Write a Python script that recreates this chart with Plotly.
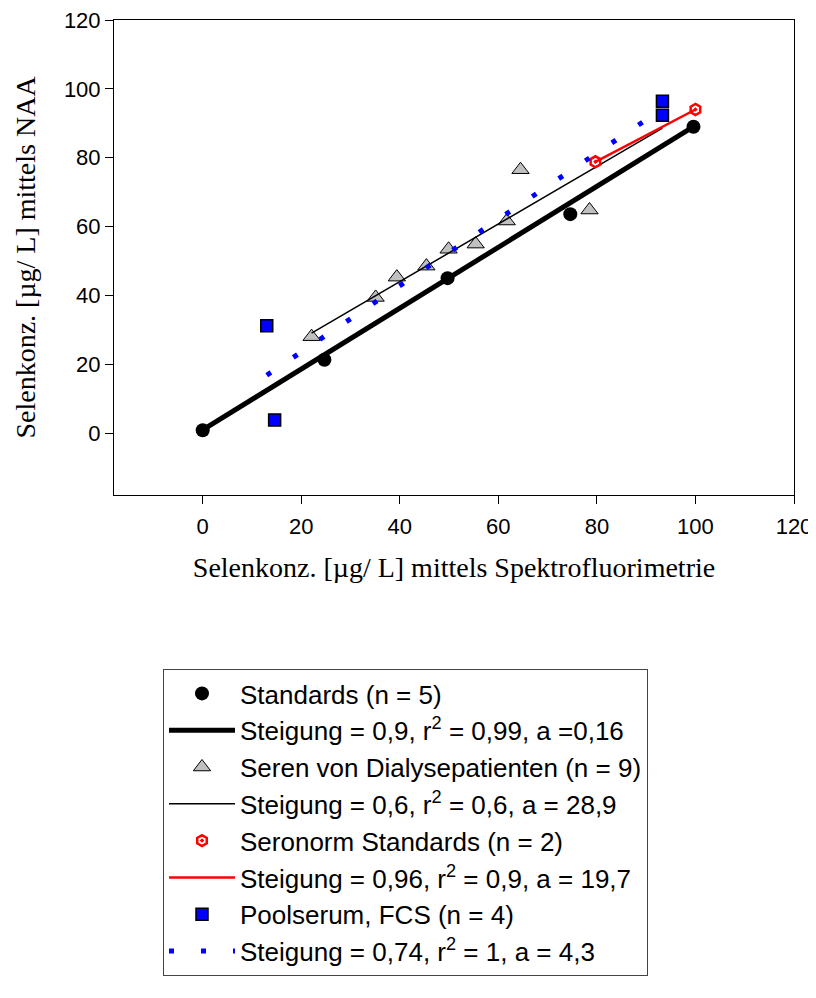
import plotly.graph_objects as go

# ---- data ----
std_x = [0, 24.7, 49.7, 74.6, 99.6]
std_y = [0.8, 21.3, 45.0, 63.6, 89.0]
std_fit_x = [0, 99.6]
std_fit_y = [0.9, 89.0]

dia_x = [22.1, 35.1, 39.4, 45.4, 49.9, 55.4, 61.7, 64.5, 78.5]
dia_y = [28.0, 39.4, 45.3, 48.5, 53.4, 54.9, 61.6, 76.5, 64.8]
dia_fit_x = [22.1, 93.3]
dia_fit_y = [29.0, 88.6]

sero_x = [79.7, 100.0]
sero_y = [78.8, 94.0]
sero_fit_x = [79.7, 100.0]
sero_fit_y = [78.8, 94.0]

pool_x = [13.0, 14.6, 93.3, 93.3]
pool_y = [31.2, 3.8, 96.4, 92.3]
pool_fit_x = [13.0, 93.3]
pool_fit_y = [16.8, 94.2]

names = [
    "Standards (n = 5)",
    "Steigung = 0,9, r<sup>2</sup> = 0,99, a =0,16",
    "Seren von Dialysepatienten (n = 9)",
    "Steigung = 0,6, r<sup>2</sup> = 0,6, a = 28,9",
    "Seronorm Standards (n = 2)",
    "Steigung = 0,96, r<sup>2</sup> = 0,9, a = 19,7",
    "Poolserum, FCS (n = 4)",
    "Steigung = 0,74, r<sup>2</sup> = 1, a = 4,3",
]

x_ticks = [0, 20, 40, 60, 80, 100, 120]
y_ticks = [0, 20, 40, 60, 80, 100, 120]

tick_font = dict(family="Liberation Sans, Arial", size=22, color="black")
title_font = dict(family="Liberation Serif, Times New Roman, serif", size=28, color="black")

fig = go.Figure()

fig.add_trace(go.Scatter(x=std_x, y=std_y, mode="markers", name=names[0],
                         marker=dict(symbol="circle", size=14, color="black")))
fig.add_trace(go.Scatter(x=std_fit_x, y=std_fit_y, mode="lines", name=names[1],
                         line=dict(color="black", width=5)))
fig.add_trace(go.Scatter(x=dia_x, y=dia_y, mode="markers", name=names[2],
                         marker=dict(symbol="triangle-up", size=15, color="#c0c0c0",
                                     line=dict(color="black", width=1))))
fig.add_trace(go.Scatter(x=dia_fit_x, y=dia_fit_y, mode="lines", name=names[3],
                         line=dict(color="black", width=1.5)))
fig.add_trace(go.Scatter(x=sero_x, y=sero_y, mode="markers", name=names[4],
                         marker=dict(symbol="hexagon-open-dot", size=11, color="red",
                                     line=dict(color="red", width=2.5))))
fig.add_trace(go.Scatter(x=sero_fit_x, y=sero_fit_y, mode="lines", name=names[5],
                         line=dict(color="red", width=2.5)))
fig.add_trace(go.Scatter(x=pool_x, y=pool_y, mode="markers", name=names[6],
                         marker=dict(symbol="square", size=12, color="blue",
                                     line=dict(color="black", width=1.5))))
fig.add_trace(go.Scatter(x=pool_fit_x, y=pool_fit_y, mode="lines", name=names[7],
                         line=dict(color="blue", width=5, dash="5px,27px")))

axis_common = dict(range=[-18, 120], showgrid=False, zeroline=False,
                   showline=True, linecolor="black", linewidth=1, mirror=True,
                   ticks="outside", ticklen=8, tickcolor="black", tickwidth=1,
                   tickfont=tick_font, ticklabeloverflow="allow")

fig.update_xaxes(tickvals=x_ticks, **axis_common, ticklabelstandoff=4,
                 title=dict(text="Selenkonz. [µg/ L] mittels Spektrofluorimetrie",
                            font=title_font, standoff=18))
fig.update_yaxes(tickvals=y_ticks, **axis_common,
                 title=dict(text="Selenkonz. [µg/ L] mittels NAA",
                            font=title_font, standoff=20))

# the page body adds an 8px margin; keep the plot where the reference has it
ml, mt, pw, ph = 106, 12, 680, 475
fig_w, fig_h = 816, 982
mr = fig_w - ml - pw
mb = fig_h - mt - ph

fig.update_layout(
    width=fig_w, height=fig_h,
    margin=dict(l=ml, r=mr, t=mt, b=mb, autoexpand=False),
    paper_bgcolor="white", plot_bgcolor="white",
    showlegend=True,
    legend=dict(
        x=(163 - 114) / pw, y=-(669 - 495) / ph,
        xanchor="left", yanchor="top",
        bordercolor="#444", borderwidth=1, bgcolor="white",
        font=dict(family="Liberation Sans, Arial", size=26, color="black"),
        itemwidth=66, tracegroupgap=0, traceorder="normal",
    ),
)

fig.write_html("out.html")
